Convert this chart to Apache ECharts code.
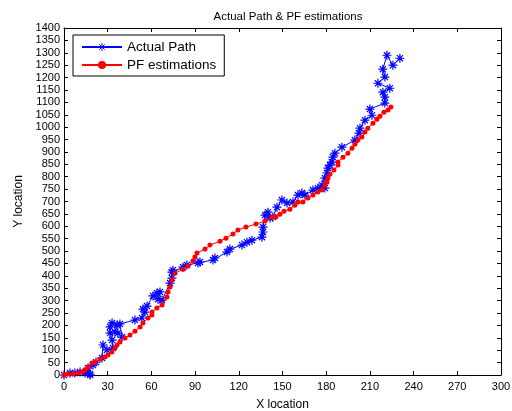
<!DOCTYPE html>
<html>
<head>
<meta charset="utf-8">
<script src="https://cdn.jsdelivr.net/npm/echarts@6/dist/echarts.min.js"></script>
<style>html,body{margin:0;padding:0;background:#fff;}#c{width:512px;height:411px;}</style>
</head>
<body>
<div id="c"></div>
<script>
var chartTitle = 'Actual Path & PF estimations';
var seriesNames = ['Actual Path', 'PF estimations'];
var xTicks = [0, 30, 60, 90, 120, 150, 180, 210, 240, 270, 300];
var yTicks = [0, 50, 100, 150, 200, 250, 300, 350, 400, 450, 500, 550, 600, 650, 700, 750, 800, 850, 900, 950, 1000, 1050, 1100, 1150, 1200, 1250, 1300, 1350, 1400];

var actualX = [0, 4.1, 7.5, 11, 14.4, 17.8, 18, 16.5, 19.9, 22, 26.1, 26.8, 29.5, 33.6, 33, 31.6, 31.6, 33, 36.4, 35, 37, 39.8, 38.4, 48.7, 53.5, 55.6, 54.2, 57, 61.1, 63.8, 65.9, 64.5, 67.3, 72.8, 74.1, 74.1, 74.8, 81.7, 84.4, 92, 93.3, 102.3, 103.6, 111.9, 113.9, 122.2, 125.6, 129, 135.9, 136.6, 136.6, 138, 140, 141.4, 143.4, 146.2, 149.6, 153.1, 157.2, 160.6, 163.3, 165.4, 170.9, 174.3, 179.1, 177.1, 179.1, 180.5, 181.2, 182.6, 183.9, 184.6, 186, 190.8, 199.7, 202.5, 203.2, 206.6, 211.4, 210, 220.3, 220.3, 218.9, 223.7, 215.5, 220.3, 218.9, 221.7, 225.8, 230.6];
var actualY = [0, 8, 8, 12, 8, 4, 0, 28, 40, 52, 69, 121, 101, 109, 141, 169, 194, 210, 202, 173, 169, 153, 206, 222, 230, 254, 266, 278, 319, 331, 335, 306, 302, 371, 391, 415, 423, 435, 444, 452, 456, 464, 472, 496, 508, 524, 536, 544, 556, 577, 597, 645, 657, 633, 637, 677, 706, 694, 698, 726, 734, 726, 746, 754, 754, 766, 794, 815, 835, 847, 859, 879, 895, 919, 948, 976, 996, 1028, 1048, 1073, 1097, 1121, 1141, 1157, 1177, 1202, 1234, 1290, 1250, 1278];

var pfX = [0, 2.7, 6.2, 9.6, 12.4, 14.4, 16.5, 19.2, 21.3, 24.7, 28.1, 30.2, 32.9, 35.0, 36.4, 38.4, 41.9, 45.3, 48.7, 52.2, 54.2, 57.7, 60.4, 60.4, 63.8, 67.3, 70.7, 71.4, 72.8, 74.1, 76.2, 81.7, 85.1, 88.5, 89.9, 91.3, 96.8, 100.2, 107.1, 111.2, 116.0, 119.4, 124.9, 131.8, 138.0, 142.8, 145.5, 148.2, 151.0, 155.1, 158.5, 160.6, 164.0, 167.5, 170.9, 174.3, 177.1, 179.1, 180.5, 181.2, 182.6, 185.3, 188.1, 188.1, 191.5, 194.9, 197.7, 199.7, 201.8, 204.5, 206.6, 208.6, 212.1, 214.8, 216.9, 219.6, 222.4, 224.4];
var pfY = [0, 4, 4, 8, 12, 20, 32, 48, 52, 65, 73, 81, 93, 109, 121, 133, 149, 161, 177, 194, 210, 230, 242, 254, 270, 282, 315, 335, 355, 383, 411, 427, 440, 460, 476, 492, 508, 524, 540, 552, 569, 585, 597, 609, 621, 637, 637, 649, 661, 669, 685, 698, 698, 714, 726, 738, 746, 766, 778, 794, 810, 827, 847, 859, 879, 895, 915, 931, 948, 960, 980, 996, 1016, 1032, 1044, 1060, 1069, 1081];

function zip(a, b) { var r = []; for (var i = 0; i < a.length; i++) r.push([a[i], b[i]]); return r; }

var star = 'path://M0,5L10,5M5,0L5,10M1.6,1.6L8.4,8.4M8.4,1.6L1.6,8.4';
var font = 'Liberation Sans, Arial, sans-serif';

var chart = echarts.init(document.getElementById('c'), null, {renderer: 'canvas'});
var axisCommon = {
  axisLine: {show: true, onZero: false, lineStyle: {color: '#000', width: 1}},
  axisTick: {show: true, inside: true, length: 4, lineStyle: {color: '#000'}},
  splitLine: {show: false}
};
chart.setOption({
  animation: false,
  backgroundColor: '#fff',
  textStyle: {fontFamily: font},
  title: {
    text: chartTitle, left: 283, top: 6, textAlign: 'center',
    textStyle: {fontSize: 11.5, fontWeight: 'normal', color: '#000', fontFamily: font}
  },
  grid: {left: 64, right: 11, top: 28, bottom: 36, containLabel: false, outerBoundsMode: 'none'},
  legend: {
    orient: 'vertical', left: 73, top: 35,
    itemWidth: 40, itemHeight: 10, itemGap: 4,
    padding: [5, 8, 4, 8],
    borderColor: '#000', borderWidth: 1, backgroundColor: '#fff',
    itemStyle: {borderWidth: 0.9},
    textStyle: {fontSize: 13.5, color: '#000', fontFamily: font},
    data: seriesNames
  },
  xAxis: [
    Object.assign({
      type: 'value', min: 0, max: 300, interval: 30, position: 'bottom',
      name: 'X location', nameLocation: 'middle', nameGap: 24,
      nameTextStyle: {fontSize: 12, color: '#000', fontFamily: font},
      axisLabel: {color: '#000', fontSize: 11, margin: 6, fontFamily: font,
        formatter: function (v) { return xTicks.indexOf(v) >= 0 ? String(v) : ''; }}
    }, axisCommon),
    Object.assign({
      type: 'value', min: 0, max: 300, interval: 30, position: 'top',
      axisLabel: {show: false}
    }, axisCommon)
  ],
  yAxis: [
    Object.assign({
      type: 'value', min: 0, max: 1400, interval: 50, position: 'left',
      name: 'Y location', nameLocation: 'middle', nameGap: 39,
      nameTextStyle: {fontSize: 12, color: '#000', fontFamily: font},
      axisLabel: {color: '#000', fontSize: 11, margin: 4, fontFamily: font,
        formatter: function (v) { return yTicks.indexOf(v) >= 0 ? String(v) : ''; }}
    }, axisCommon),
    Object.assign({
      type: 'value', min: 0, max: 1400, interval: 50, position: 'right',
      axisLabel: {show: false}
    }, axisCommon)
  ],
  series: [
    {
      name: seriesNames[0], type: 'line', xAxisIndex: 0, yAxisIndex: 0,
      data: zip(actualX, actualY),
      symbol: star, symbolSize: 9, showAllSymbol: true,
      lineStyle: {color: '#0000ff', width: 1},
      itemStyle: {color: 'rgba(0,0,255,0)', borderColor: '#0000ff', borderWidth: 1.2},
      z: 2
    },
    {
      name: seriesNames[1], type: 'line', xAxisIndex: 0, yAxisIndex: 0,
      data: zip(pfX, pfY),
      symbol: 'circle', symbolSize: 5, showAllSymbol: true,
      lineStyle: {color: '#ff0000', width: 1},
      itemStyle: {color: '#ff0000', borderWidth: 0},
      z: 3
    }
  ]
});
</script>
</body>
</html>
